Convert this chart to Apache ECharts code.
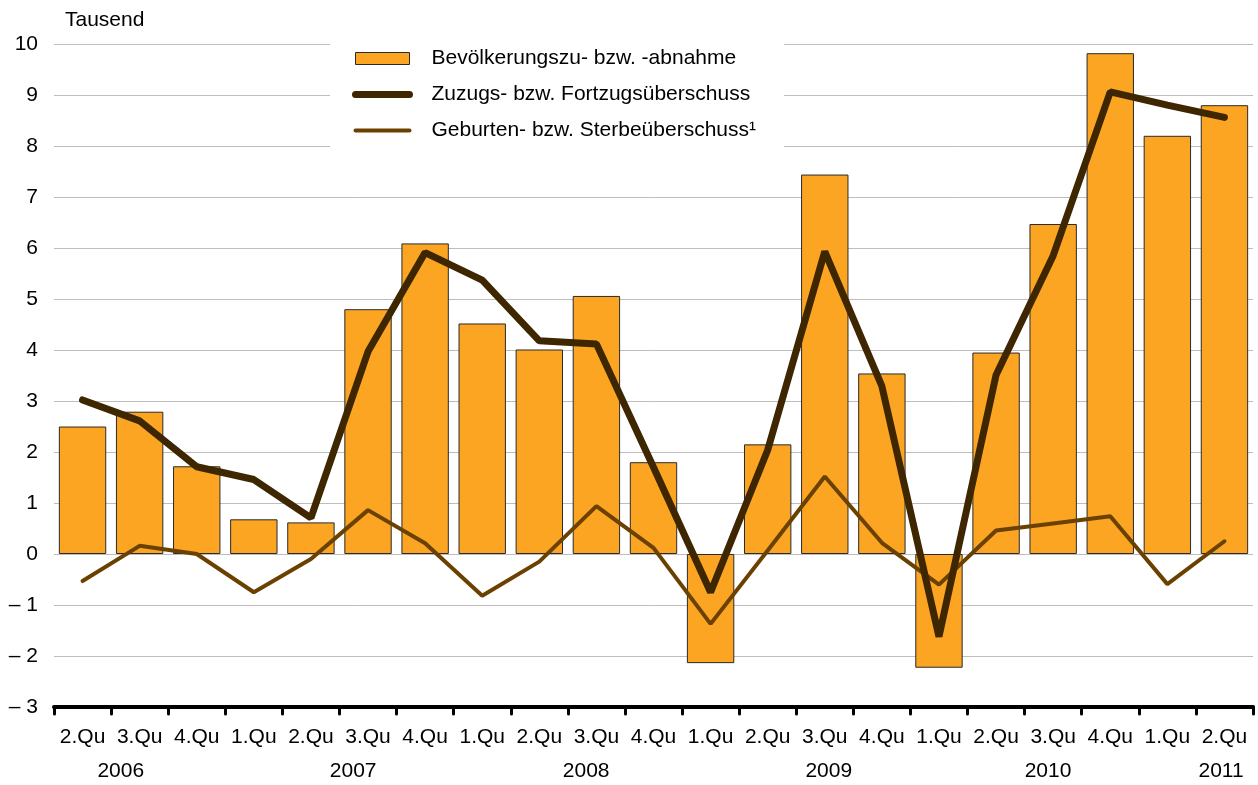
<!DOCTYPE html>
<html>
<head>
<meta charset="utf-8">
<script src="https://cdn.jsdelivr.net/npm/echarts@6/dist/echarts.min.js"></script>
<style>
  html, body { margin: 0; padding: 0; background: #fff; }
  #chart { width: 1258px; height: 785px; }
</style>
</head>
<body>
<div id="chart"></div>
<script>
// Quartale 2.Qu 2006 bis 2.Qu 2011
var quarters = ['2.Qu', '3.Qu', '4.Qu',
    '1.Qu', '2.Qu', '3.Qu', '4.Qu',
    '1.Qu', '2.Qu', '3.Qu', '4.Qu',
    '1.Qu', '2.Qu', '3.Qu', '4.Qu',
    '1.Qu', '2.Qu', '3.Qu', '4.Qu',
    '1.Qu', '2.Qu'];
var years = ['2006', '2007', '2008', '2009', '2010', '2011'];
// Lage der Jahresbeschriftung in Kategorie-Einheiten
var yearPos = [1.17, 5.24, 9.32, 13.57, 17.41, 20.44];

var bevoelkerung = [2.50, 2.79, 1.72, 0.68, 0.62, 4.80, 6.09, 4.52, 4.01, 5.06, 1.80,
    -2.14, 2.15, 7.44, 3.54, -2.23, 3.95, 6.47, 9.82, 8.20, 8.80];
var wanderung = [3.02, 2.61, 1.71, 1.46, 0.71, 3.97, 5.91, 5.37, 4.18, 4.12, 1.70,
    -0.75, 2.04, 5.93, 3.29, -1.62, 3.51, 5.85, 9.06, 8.80, 8.56];
var natuerlich = [-0.53, 0.16, 0.00, -0.75, -0.10, 0.86, 0.21, -0.82, -0.15, 0.94, 0.12,
    -1.37, 0.07, 1.52, 0.22, -0.60, 0.46, 0.60, 0.74, -0.59, 0.25];

var names = ['Bevölkerungszu- bzw. -abnahme',
    'Zuzugs- bzw. Fortzugsüberschuss',
    'Geburten- bzw. Sterbeüberschuss¹'];

var font = '"Liberation Sans", Arial, sans-serif';
var fs = 21;
var barColor = '#FBA523';
var darkBrown = '#3D2600';
var brown = '#6B4100';

var chart = echarts.init(document.getElementById('chart'));

var option = {
    animation: false,
    textStyle: { fontFamily: font, color: '#000' },
    grid: { left: 54, right: 5, top: 44, bottom: 78 },
    legend: {
        data: [
            { name: names[0], icon: 'rect', itemStyle: { color: barColor, borderColor: '#2a2a2a', borderWidth: 1 } },
            { name: names[1], itemStyle: { opacity: 0 }, lineStyle: { color: darkBrown, width: 7, cap: 'round' } },
            { name: names[2], itemStyle: { opacity: 0 }, lineStyle: { color: brown, width: 4, cap: 'round' } }
        ],
        orient: 'vertical',
        left: 330,
        top: 30,
        padding: [18, 28, 20, 22],
        backgroundColor: '#fff',
        itemWidth: 54,
        itemHeight: 12,
        itemGap: 15,
        selectedMode: false,
        textStyle: { fontFamily: font, fontSize: fs, color: '#000', padding: [0, 0, 0, 17] }
    },
    xAxis: [{
        type: 'category',
        data: quarters,
        axisLine: { onZero: false, lineStyle: { color: '#000', width: 4 } },
        axisTick: { show: true, length: 7, lineStyle: { color: '#000', width: 3, cap: 'round' } },
        axisLabel: { fontFamily: font, fontSize: fs, color: '#000', margin: 20, interval: 0 },
        splitLine: { show: false }
    }, {
        type: 'value',
        min: 0,
        max: 21,
        position: 'bottom',
        axisLine: { show: false, onZero: false },
        axisTick: { show: false },
        splitLine: { show: false },
        axisLabel: {
            fontFamily: font, fontSize: fs, color: '#000', margin: 54,
            customValues: yearPos,
            formatter: function (v) {
                var i = yearPos.indexOf(v);
                return i >= 0 ? years[i] : '';
            }
        }
    }],
    yAxis: {
        type: 'value',
        min: -3,
        max: 10,
        interval: 1,
        name: 'Tausend',
        nameLocation: 'end',
        nameGap: 13,
        nameTextStyle: { fontFamily: font, fontSize: fs, color: '#000', align: 'left', padding: [0, 0, 0, 11] },
        axisLine: { show: false },
        axisTick: { show: false },
        axisLabel: {
            fontFamily: font, fontSize: fs, color: '#000', margin: 16,
            formatter: function (v) { return v < 0 ? '\u2013 ' + Math.abs(v) : String(v); }
        },
        splitLine: { lineStyle: { color: '#bdbdbd', width: 1 } }
    },
    series: [{
        name: names[0],
        type: 'bar',
        data: bevoelkerung,
        barCategoryGap: '17%',
        itemStyle: { color: barColor, borderColor: '#2a2a2a', borderWidth: 1 }
    }, {
        name: names[2],
        type: 'line',
        data: natuerlich,
        symbol: 'none',
        lineStyle: { color: brown, width: 4, cap: 'round' },
        itemStyle: { color: brown }
    }, {
        name: names[1],
        type: 'line',
        data: wanderung,
        symbol: 'none',
        lineStyle: { color: darkBrown, width: 7, cap: 'round' },
        itemStyle: { color: darkBrown }
    }]
};

chart.setOption(option);
</script>
</body>
</html>
